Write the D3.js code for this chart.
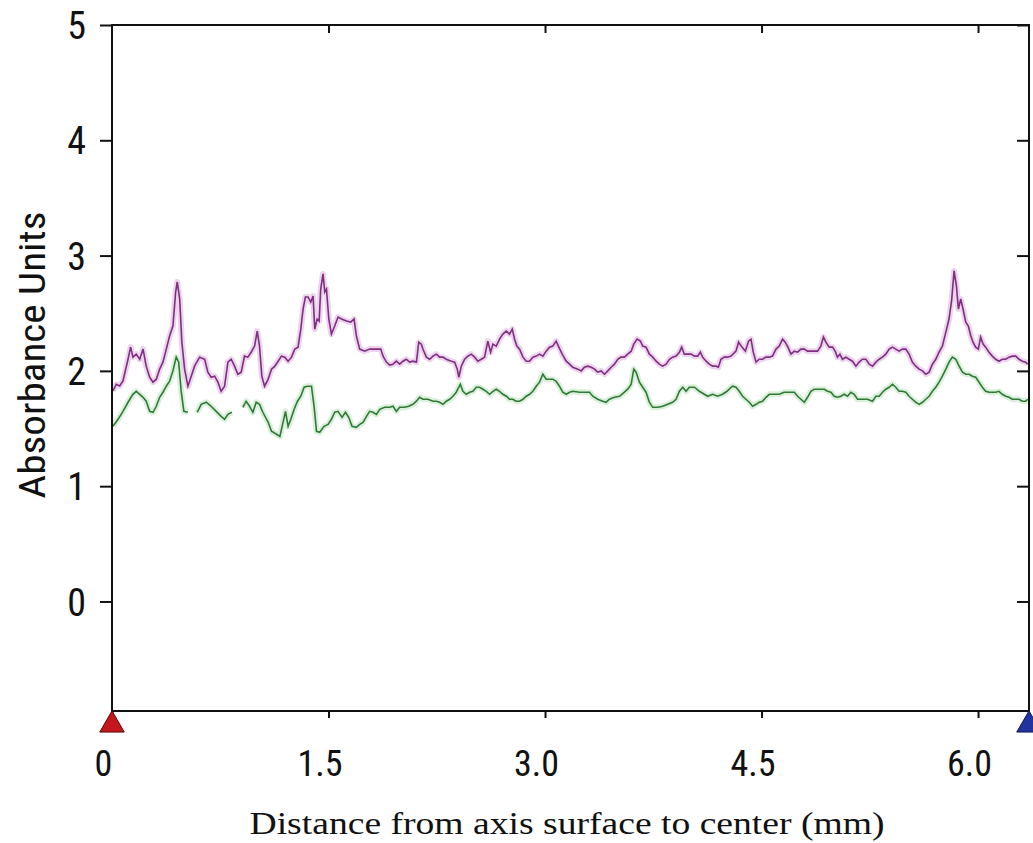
<!DOCTYPE html>
<html>
<head>
<meta charset="utf-8">
<script src="https://cdn.jsdelivr.net/npm/d3@7/dist/d3.min.js"></script>
<style>
  html, body { margin: 0; padding: 0; background: #fff; }
  svg { display: block; }
</style>
</head>
<body>
<svg id="chart" width="1033" height="843"></svg>
<script>
// ---------------- DATA ----------------
const xTickValues = [0, 1.5, 3.0, 4.5, 6.0];
const xTickLabels = ["0", "1.5", "3.0", "4.5", "6.0"];
const yTickValues = [0, 1, 2, 3, 4, 5];
const yTickLabels = ["0", "1", "2", "3", "4", "5"];
const xDomain = [0, 6.36];
const yDomain = [-0.95, 5];
const xTitle = "Distance from axis surface to center  (mm)";
const yTitle = "Absorbance Units";

// upper (purple) trace: [distance mm, absorbance]
const purpleSeries = [
  [0.007,1.826],[0.030,1.884],[0.053,1.870],[0.076,1.913],[0.111,2.101],[0.129,2.206],[0.145,2.119],[0.168,2.145],[0.192,2.101],[0.215,2.189],
  [0.237,2.041],[0.261,1.945],[0.284,1.902],[0.307,1.928],[0.330,2.015],[0.353,2.076],[0.376,2.189],[0.399,2.302],[0.422,2.389],[0.441,2.684],
  [0.452,2.772],[0.469,2.623],[0.484,2.249],[0.503,2.015],[0.526,1.867],[0.549,1.954],[0.572,2.041],[0.607,2.119],[0.642,2.101],[0.664,1.989],
  [0.687,1.945],[0.711,1.954],[0.734,1.902],[0.756,1.823],[0.780,1.867],[0.803,2.076],[0.826,2.101],[0.849,2.041],[0.872,1.971],[0.895,1.989],
  [0.918,2.128],[0.941,2.119],[0.964,2.162],[0.988,2.215],[1.006,2.345],[1.022,2.215],[1.038,1.954],[1.057,1.867],
  [1.082,1.928],[1.105,2.015],[1.128,2.041],[1.151,2.084],[1.174,2.128],[1.197,2.119],[1.220,2.084],[1.244,2.119],[1.266,2.189],[1.289,2.206],
  [1.308,2.362],[1.324,2.537],[1.340,2.641],[1.358,2.641],[1.377,2.597],[1.393,2.650],[1.405,2.362],[1.421,2.450],[1.435,2.432],[1.446,2.710],
  [1.462,2.841],[1.474,2.684],[1.486,2.710],[1.502,2.450],[1.520,2.319],[1.543,2.389],[1.566,2.467],[1.590,2.450],[1.624,2.432],[1.654,2.423],
  [1.677,2.450],[1.693,2.302],[1.716,2.189],[1.751,2.171],[1.785,2.189],[1.820,2.189],[1.862,2.189],[1.878,2.128],[1.901,2.076],[1.924,2.050],
  [1.947,2.058],[1.970,2.084],[1.993,2.058],[2.016,2.084],[2.039,2.101],[2.062,2.076],[2.085,2.084],[2.109,2.076],[2.125,2.249],[2.143,2.232],
  [2.154,2.189],[2.178,2.119],[2.201,2.101],[2.224,2.128],[2.247,2.145],[2.270,2.119],[2.293,2.119],[2.316,2.101],[2.351,2.084],[2.374,2.076],
  [2.392,2.015],[2.403,1.945],[2.420,2.041],[2.443,2.101],[2.466,2.128],[2.489,2.145],[2.512,2.119],[2.535,2.084],[2.558,2.101],[2.581,2.119],
  [2.604,2.258],[2.623,2.162],[2.639,2.232],[2.662,2.215],[2.685,2.275],[2.708,2.319],[2.732,2.345],[2.754,2.319],[2.773,2.362],[2.789,2.275],
  [2.805,2.215],[2.824,2.189],[2.847,2.119],[2.870,2.084],[2.893,2.084],[2.916,2.119],[2.939,2.128],[2.962,2.145],[2.985,2.128],[3.008,2.171],
  [3.031,2.206],[3.054,2.215],[3.077,2.258],[3.096,2.206],[3.119,2.145],[3.147,2.084],[3.170,2.058],[3.192,2.032],
  [3.227,2.015],[3.251,2.000],[3.273,2.032],[3.296,2.041],[3.320,2.032],[3.343,2.015],[3.365,1.989],[3.389,2.000],[3.412,1.971],[3.435,2.000],
  [3.458,2.032],[3.481,2.058],[3.504,2.101],[3.527,2.119],[3.550,2.119],[3.573,2.145],[3.597,2.171],[3.615,2.232],[3.638,2.275],[3.661,2.258],
  [3.677,2.215],[3.700,2.206],[3.723,2.145],[3.746,2.119],[3.770,2.084],[3.792,2.058],[3.815,2.041],[3.839,2.058],[3.862,2.101],[3.884,2.119],
  [3.908,2.128],[3.931,2.162],[3.947,2.206],[3.965,2.145],[3.988,2.145],[4.012,2.145],[4.035,2.128],[4.057,2.128],[4.076,2.162],[4.092,2.119],
  [4.116,2.084],[4.138,2.058],[4.161,2.041],[4.185,2.041],[4.201,2.032],[4.219,2.101],[4.242,2.119],[4.265,2.119],[4.289,2.128],
  [4.323,2.171],[4.341,2.249],[4.365,2.206],[4.388,2.171],[4.410,2.258],[4.427,2.275],[4.443,2.162],[4.462,2.076],[4.484,2.101],[4.507,2.101],
  [4.531,2.119],[4.554,2.119],[4.576,2.128],[4.600,2.189],[4.623,2.215],[4.646,2.275],[4.664,2.249],[4.683,2.206],[4.704,2.145],[4.727,2.171],
  [4.750,2.162],[4.773,2.189],[4.796,2.189],[4.819,2.171],[4.842,2.171],[4.865,2.171],[4.888,2.171],[4.911,2.215],[4.929,2.293],[4.946,2.249],
  [4.969,2.206],[4.992,2.206],[5.010,2.171],[5.026,2.119],[5.043,2.145],[5.061,2.101],[5.084,2.119],[5.107,2.101],[5.130,2.084],[5.154,2.041],
  [5.176,2.076],[5.199,2.101],[5.223,2.101],[5.246,2.058],[5.269,2.041],[5.292,2.076],[5.315,2.101],
  [5.338,2.119],[5.361,2.145],[5.384,2.189],[5.407,2.206],[5.430,2.189],[5.453,2.171],[5.476,2.189],[5.500,2.189],[5.522,2.145],[5.545,2.076],
  [5.569,2.041],[5.592,2.015],[5.615,2.000],[5.638,1.971],[5.661,1.989],[5.684,2.058],[5.707,2.101],[5.730,2.162],[5.753,2.215],[5.777,2.336],
  [5.799,2.450],[5.818,2.623],[5.834,2.867],[5.850,2.737],[5.864,2.537],[5.880,2.623],[5.896,2.537],[5.915,2.423],[5.933,2.389],[5.950,2.302],
  [5.965,2.249],[5.984,2.206],[6.002,2.189],[6.018,2.293],[6.035,2.232],[6.053,2.206],[6.076,2.162],[6.099,2.128],[6.122,2.101],[6.145,2.084],
  [6.168,2.101],[6.192,2.101],[6.215,2.119],[6.237,2.128],[6.261,2.128],[6.284,2.101],[6.307,2.084],[6.330,2.076],[6.344,2.058]
];

// lower (green) trace: [distance mm, absorbance]; null = gap in the trace
const greenSeries = [
  [0.007,1.519],[0.042,1.580],[0.076,1.649],[0.111,1.728],[0.145,1.797],[0.168,1.823],[0.192,1.797],[0.215,1.771],[0.237,1.737],[0.261,1.649],
  [0.284,1.641],[0.307,1.693],[0.330,1.771],[0.353,1.815],[0.376,1.867],[0.399,1.910],[0.422,2.000],[0.445,2.119],[0.462,2.076],[0.480,1.815],
  [0.498,1.649],[0.526,1.641],[0.558,null],[0.590,1.641],[0.618,1.710],[0.653,1.728],[0.687,1.693],[0.722,1.649],[0.756,1.606],[0.780,1.580],
  [0.803,1.623],[0.830,1.641],[0.868,null],[0.907,1.684],[0.929,1.737],[0.953,1.693],[0.976,1.641],[0.999,1.728],[1.022,1.710],[1.045,1.641],
  [1.082,1.554],[1.105,1.476],[1.140,1.450],[1.163,1.432],[1.185,1.554],[1.202,1.649],[1.220,1.519],[1.239,1.580],[1.262,1.667],[1.285,1.737],
  [1.308,1.780],[1.331,1.858],[1.354,1.867],[1.382,1.867],[1.400,1.693],[1.417,1.476],[1.439,1.467],[1.469,1.519],[1.497,1.536],[1.520,1.580],
  [1.543,1.641],[1.566,1.649],[1.594,1.597],[1.617,1.641],[1.640,1.597],[1.663,1.519],[1.693,1.510],[1.716,1.536],[1.739,1.554],[1.763,1.606],
  [1.785,1.649],[1.808,1.641],[1.832,1.623],[1.855,1.667],[1.889,1.684],[1.924,1.684],[1.947,1.693],[1.970,1.649],[1.993,1.684],[2.028,1.684],
  [2.055,1.693],[2.085,1.710],[2.109,1.737],[2.131,1.771],
  [2.154,1.754],[2.189,1.754],[2.224,1.737],[2.247,1.737],[2.270,1.728],[2.293,1.710],[2.316,1.737],[2.339,1.754],[2.362,1.780],[2.385,1.815],
  [2.413,1.884],[2.431,1.823],[2.455,1.797],[2.478,1.815],[2.500,1.823],[2.524,1.858],[2.547,1.858],[2.570,1.841],[2.593,1.823],[2.616,1.797],
  [2.639,1.823],[2.662,1.841],[2.685,1.823],[2.708,1.797],[2.732,1.780],[2.754,1.754],[2.777,1.754],[2.800,1.737],[2.824,1.737],[2.847,1.754],
  [2.870,1.780],[2.893,1.797],[2.916,1.823],[2.939,1.867],[2.962,1.902],[2.985,1.971],[3.008,1.928],[3.031,1.928],[3.054,1.928],[3.077,1.910],
  [3.100,1.867],[3.123,1.815],[3.147,1.797],[3.170,1.815],[3.192,1.823],
  [3.239,1.815],[3.273,1.815],[3.308,1.815],[3.331,1.780],[3.365,1.754],[3.400,1.737],[3.423,1.728],[3.446,1.754],[3.481,1.771],[3.516,1.780],
  [3.550,1.815],[3.573,1.841],[3.597,1.884],[3.615,2.015],[3.631,1.989],[3.654,1.902],[3.677,1.858],[3.700,1.815],[3.723,1.728],[3.746,1.684],
  [3.781,1.684],[3.815,1.693],[3.850,1.710],[3.884,1.728],[3.908,1.754],[3.931,1.823],[3.954,1.858],[3.977,1.823],[4.000,1.858],[4.035,1.858],
  [4.069,1.823],[4.104,1.797],[4.127,1.780],[4.161,1.797],[4.196,1.780],[4.230,1.797],[4.261,1.823],[4.289,1.858],
  [4.300,1.867],[4.323,1.858],[4.346,1.823],[4.369,1.780],[4.392,1.754],[4.415,1.728],[4.438,1.693],[4.462,1.710],[4.484,1.728],[4.507,1.737],
  [4.531,1.771],[4.554,1.797],[4.588,1.797],[4.623,1.797],[4.657,1.815],[4.692,1.815],[4.727,1.815],[4.750,1.780],[4.773,1.754],[4.796,1.728],
  [4.819,1.771],[4.842,1.823],[4.865,1.841],[4.900,1.841],[4.934,1.841],[4.957,1.823],[4.981,1.815],[5.003,1.780],[5.026,1.771],[5.050,1.780],
  [5.073,1.797],[5.096,1.780],[5.119,1.815],[5.142,1.797],[5.165,1.754],[5.199,1.754],[5.234,1.754],[5.269,1.737],[5.292,1.780],
  [5.315,1.780],[5.338,1.815],[5.361,1.841],[5.384,1.858],[5.407,1.884],[5.430,1.858],[5.453,1.823],[5.476,1.823],[5.500,1.815],[5.522,1.780],
  [5.545,1.754],[5.569,1.728],[5.592,1.710],[5.615,1.728],[5.638,1.754],[5.661,1.780],[5.684,1.823],[5.707,1.858],[5.730,1.902],[5.753,1.954],
  [5.777,2.015],[5.799,2.076],[5.822,2.119],[5.846,2.101],[5.869,2.041],[5.892,1.989],[5.915,1.971],[5.938,1.971],[5.961,1.954],[5.984,1.945],
  [6.007,1.902],[6.030,1.858],[6.053,1.823],[6.076,1.815],[6.099,1.815],[6.122,1.815],[6.145,1.823],[6.168,1.797],[6.192,1.780],[6.215,1.771],
  [6.237,1.754],[6.261,1.754],[6.284,1.754],[6.307,1.737],[6.330,1.737],[6.344,1.754]
];

// ---------------- CHART ----------------
const svg = d3.select("#chart");
const W = 1033, H = 843;
const margin = { left: 112, top: 25, right: 3, bottom: 132 };
const x = d3.scaleLinear().domain(xDomain).range([margin.left, W - margin.right]);
const y = d3.scaleLinear().domain(yDomain).range([H - margin.bottom, margin.top]);

svg.append("rect").attr("width", W).attr("height", H).attr("fill", "#fff");

const narrow = '"Liberation Sans Narrow", "Arial Narrow", "Roboto Condensed", sans-serif';
const serif = '"Liberation Serif", "Times New Roman", serif';

// lines
const line = d3.line()
  .defined(d => d[1] !== null)
  .x(d => x(d[0]))
  .y(d => y(d[1]))
  .curve(d3.curveLinear);

const series = [
  { data: purpleSeries, halo: "#dcb0de", core: "#7e2f80" },
  { data: greenSeries,  halo: "#bfe2bf", core: "#2f7a34" }
];
const gLines = svg.append("g");
series.forEach(s => {
  gLines.append("path").attr("d", line(s.data)).attr("fill", "none")
    .attr("stroke", s.halo).attr("stroke-width", 6).attr("stroke-opacity", 0.55)
    .attr("stroke-linejoin", "round");
  gLines.append("path").attr("d", line(s.data)).attr("fill", "none")
    .attr("stroke", s.core).attr("stroke-width", 1.6)
    .attr("stroke-linejoin", "miter");
});

// frame
const [x0, x1] = x.range();
const [yb, yt] = y.range();
svg.append("rect")
  .attr("x", x0).attr("y", yt)
  .attr("width", x1 - 1 - x0).attr("height", yb - yt)
  .attr("fill", "none").attr("stroke", "#111").attr("stroke-width", 2);

// left axis
const yAxis = d3.axisLeft(y).tickValues(yTickValues)
  .tickFormat((d, i) => yTickLabels[i]).tickSize(12).tickPadding(14);
const gy = svg.append("g").attr("transform", `translate(${x0},0)`).call(yAxis);
gy.select(".domain").remove();
gy.selectAll(".tick line").attr("stroke", "#111").attr("stroke-width", 2);
gy.selectAll(".tick text").attr("font-family", narrow).attr("font-size", 38)
  .attr("fill", "#111").attr("dy", "0.36em");

// right inner ticks
const yRight = d3.axisLeft(y).tickValues(yTickValues).tickFormat("").tickSize(12);
const gyr = svg.append("g").attr("transform", `translate(${x1 - 1},0)`).call(yRight);
gyr.select(".domain").remove();
gyr.selectAll(".tick line").attr("stroke", "#111").attr("stroke-width", 2);

// bottom axis
const xAxis = d3.axisBottom(x).tickValues(xTickValues)
  .tickFormat((d, i) => xTickLabels[i]).tickSize(7);
const gx = svg.append("g").attr("transform", `translate(0,${yb})`).call(xAxis);
gx.select(".domain").remove();
gx.selectAll(".tick line").attr("stroke", "#111").attr("stroke-width", 2);
gx.selectAll(".tick text").attr("font-family", narrow).attr("font-size", 36)
  .attr("fill", "#111").attr("y", 65).attr("dy", 0).attr("x", -9);

// top inner ticks
const xTop = d3.axisBottom(x).tickValues(xTickValues.slice(1)).tickFormat("").tickSize(8);
const gxt = svg.append("g").attr("transform", `translate(0,${yt})`).call(xTop);
gxt.select(".domain").remove();
gxt.selectAll(".tick line").attr("stroke", "#111").attr("stroke-width", 2);

// end markers (triangles)
const tri = d3.symbol().type(d3.symbolTriangle).size(260);
svg.append("path").attr("d", tri())
  .attr("transform", `translate(${x(xDomain[0])},${yb + 14})`)
  .attr("fill", "#c4161c").attr("stroke", "#5a0a0a").attr("stroke-width", 1);
svg.append("path").attr("d", tri())
  .attr("transform", `translate(${x(xDomain[1]) - 1},${yb + 14})`)
  .attr("fill", "#2233a0").attr("stroke", "#101a5a").attr("stroke-width", 1);

// titles
svg.append("text")
  .attr("x", 567).attr("y", 834)
  .attr("text-anchor", "middle")
  .attr("font-family", serif).attr("font-size", 32).attr("fill", "#111")
  .attr("textLength", 635).attr("lengthAdjust", "spacingAndGlyphs")
  .text(xTitle);

svg.append("text")
  .attr("transform", `translate(45,355) rotate(-90)`)
  .attr("text-anchor", "middle")
  .attr("font-family", narrow).attr("font-size", 37).attr("fill", "#111")
  .attr("textLength", 287).attr("lengthAdjust", "spacingAndGlyphs")
  .text(yTitle);
</script>
</body>
</html>
